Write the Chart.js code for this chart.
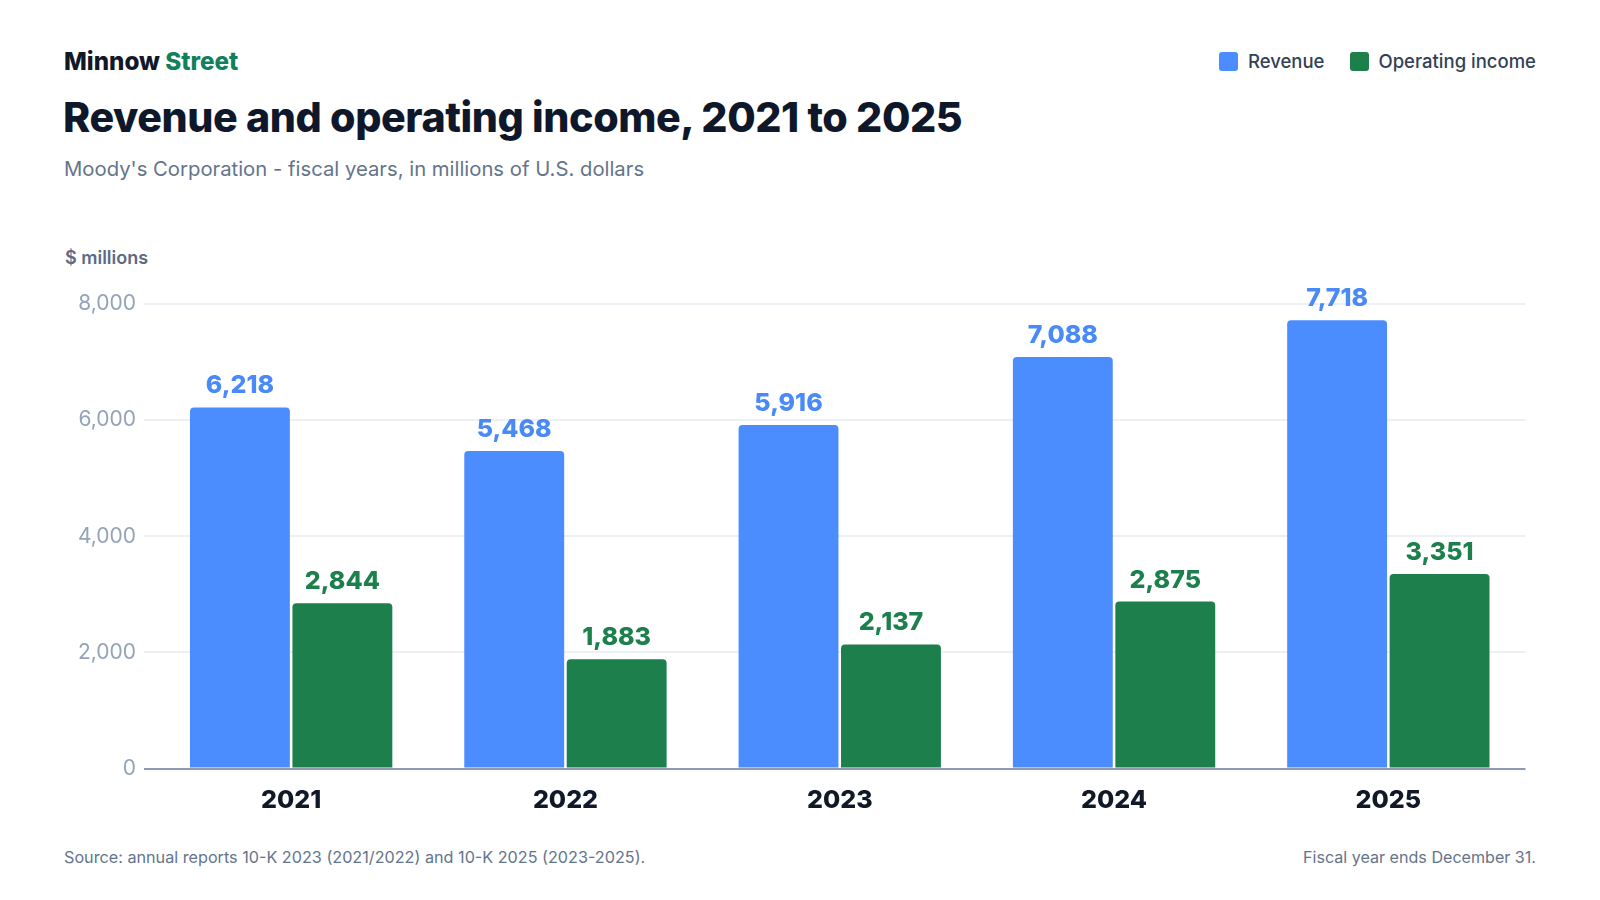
<!DOCTYPE html>
<html>
<head>
<meta charset="utf-8">
<script src="https://cdn.jsdelivr.net/npm/chart.js@4.4.1/dist/chart.umd.min.js"></script>
<style>
  html, body { margin: 0; padding: 0; background: #fff; }
  body { width: 1600px; height: 900px; position: relative; overflow: hidden; font-family: Inter, "Noto Sans", sans-serif; }
  .brand { position: absolute; left: 64px; top: 47px; font-size: 24.2px; font-weight: 800; color: #111827; letter-spacing: 0; }
  .brand span { color: #12805c; }
  .title { position: absolute; left: 63px; top: 92px; font-size: 41.2px; font-weight: 800; color: #0f172a; letter-spacing: -0.01em; }
  .subtitle { position: absolute; left: 64px; top: 156px; font-size: 20.3px; color: #64748b; }
  .unit { position: absolute; left: 65px; top: 247px; font-size: 18px; font-weight: 600; color: #5b6b82; }
  .legend { position: absolute; right: 64px; top: 50px; display: flex; align-items: center; font-size: 18.5px; font-weight: 500; color: #334155; }
  .legend .item { display: flex; align-items: center; margin-left: 25px; }
  .legend .sw { width: 19px; height: 19px; border-radius: 3px; margin-right: 10px; }
  .footer { position: absolute; top: 847px; font-size: 16.1px; color: #64748b; }
  #wrap { position: absolute; left: 64px; top: 281px; width: 1472px; height: 560px; }
</style>
</head>
<body>
<div class="brand">Minnow <span>Street</span></div>
<div class="title">Revenue and operating income, 2021 to 2025</div>
<div class="subtitle">Moody's Corporation - fiscal years, in millions of U.S. dollars</div>
<div class="legend">
  <div class="item"><div class="sw" style="background:#4b8dff"></div>Revenue</div>
  <div class="item"><div class="sw" style="background:#1c7f4c"></div>Operating income</div>
</div>
<div class="unit">$ millions</div>
<div id="wrap"><canvas id="chart"></canvas></div>
<div class="footer" style="left:64px; font-size:16.2px">Source: annual reports 10-K 2023 (2021/2022) and 10-K 2025 (2023-2025).</div>
<div class="footer" style="right:64px">Fiscal year ends December 31.</div>

<script>
// Data
const years = ['2021', '2022', '2023', '2024', '2025'];
const revenue = [6218, 5468, 5916, 7088, 7718];
const operatingIncome = [2844, 1883, 2137, 2875, 3351];
const yTicks = [0, 2000, 4000, 6000, 8000];

const blue = '#4b8dff';
const green = '#1c7f4c';

// Value labels above each bar
const barLabels = {
  id: 'barLabels',
  afterDatasetsDraw(chart) {
    const c = chart.ctx;
    c.save();
    c.font = '800 25px Inter, "Noto Sans", sans-serif';
    c.textAlign = 'center';
    c.textBaseline = 'alphabetic';
    chart.data.datasets.forEach((ds, i) => {
      const meta = chart.getDatasetMeta(i);
      c.fillStyle = ds.labelColor;
      meta.data.forEach((bar, j) => {
        c.fillText(ds.data[j].toLocaleString('en-US'), bar.x, bar.y - 14);
      });
    });
    c.restore();
  }
};

const ctx = document.getElementById('chart').getContext('2d');
new Chart(ctx, {
  type: 'bar',
  data: {
    labels: years,
    datasets: [{
      label: 'Revenue',
      data: revenue,
      backgroundColor: blue,
      labelColor: '#4a8af8',
      borderRadius: 4,
      borderSkipped: 'bottom'
    }, {
      label: 'Operating income',
      data: operatingIncome,
      backgroundColor: green,
      labelColor: '#1c7f4c',
      borderRadius: 4,
      borderSkipped: 'bottom'
    }]
  },
  options: {
    responsive: true,
    maintainAspectRatio: false,
    animation: false,
    layout: { padding: { top: 23, right: 10.5, bottom: 0, left: 0 } },
    datasets: {
      bar: { categoryPercentage: 0.747, barPercentage: 0.975 }
    },
    plugins: {
      legend: { display: false },
      tooltip: { enabled: false }
    },
    scales: {
      x: {
        grid: { display: false, drawTicks: false },
        border: { display: false },
        ticks: {
          padding: 17,
          color: '#111827',
          font: { family: 'Inter', size: 25, weight: '800' }
        },
        afterFit(scale) { scale.height = 72.5; }
      },
      y: {
        min: 0,
        max: 8000,
        afterBuildTicks(scale) { scale.ticks = yTicks.map(v => ({ value: v })); },
        grid: {
          color: c => c.tick && c.tick.value === 0 ? '#8f9bb3' : '#edf0f4',
          lineWidth: 2,
          tickLength: 10,
          tickColor: c => c.tick && c.tick.value === 0 ? '#8f9bb3' : '#edf0f4'
        },
        border: { display: false },
        ticks: {
          padding: 8,
          color: '#94a3b8',
          font: { family: 'Inter', size: 21 },
          callback: v => v.toLocaleString('en-US')
        },
        afterFit(scale) { scale.width = 90; }
      }
    }
  },
  plugins: [barLabels]
});
</script>
</body>
</html>
